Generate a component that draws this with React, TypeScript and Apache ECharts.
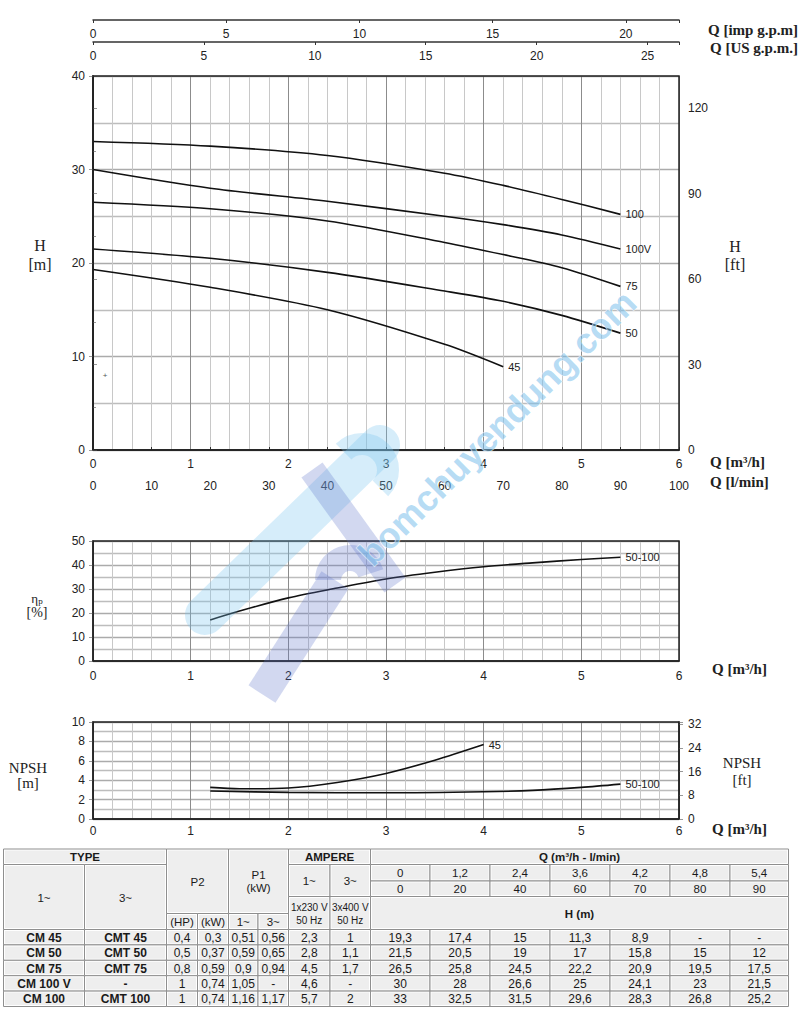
import React, { useEffect, useRef } from 'react';
import * as echarts from 'echarts';

// ---------- data ----------
const Q_M3H = [0, 1.2, 2.4, 3.6, 4.2, 4.8, 5.4];
const Q_LMIN = [0, 20, 40, 60, 70, 80, 90];
const CURVE_NAMES = ['45', '50', '75', '100V', '100'];
// table values H (m)
const H_45 = [19.3, 17.4, 15, 11.3, 8.9, null, null];
const H_50 = [21.5, 20.5, 19, 17, 15.8, 15, 12];
const H_75 = [26.5, 25.8, 24.5, 22.2, 20.9, 19.5, 17.5];
const H_100V = [30, 28, 26.6, 25, 24.1, 23, 21.5];
const H_100 = [33, 32.5, 31.5, 29.6, 28.3, 26.8, 25.2];
// curve 50 as drawn on the graph
const H_50_CURVE = [21.5, 20.5, 19, 17, 15.9, 14.4, 12.5];

const EFF_Q = [1.2, 1.5, 2, 2.5, 3, 3.5, 4, 4.5, 5, 5.4];
const EFF = [17.1, 20.8, 26.3, 30.4, 34.2, 37, 39.3, 40.9, 42.3, 43.2];

const NPSH45_Q = [1.2, 1.5, 2, 2.5, 3, 3.5, 4];
const NPSH45 = [3.26, 3.12, 3.2, 3.77, 4.7, 6.06, 7.67];
const NPSH100_Q = [1.2, 2, 3, 4, 4.5, 5, 5.4];
const NPSH100 = [2.88, 2.74, 2.7, 2.81, 2.95, 3.26, 3.6];

const TYPE_1 = ['CM 45', 'CM 50', 'CM 75', 'CM 100 V', 'CM 100'];
const TYPE_3 = ['CMT 45', 'CMT 50', 'CMT 75', '-', 'CMT 100'];
const P2_HP = ['0,4', '0,5', '0,8', '1', '1'];
const P2_KW = ['0,3', '0,37', '0,59', '0,74', '0,74'];
const P1_1 = ['0,51', '0,59', '0,9', '1,05', '1,16'];
const P1_3 = ['0,56', '0,65', '0,94', '-', '1,17'];
const AMP_1 = ['2,3', '2,8', '4,5', '4,6', '5,7'];
const AMP_3 = ['1', '1,1', '1,7', '-', '2'];

const M_TO_FT = 3.28084;
const M3H_TO_IMP = 1000 / 60 / 4.54609;
const M3H_TO_US = 1000 / 60 / 3.785411784;

// ---------- layout ----------
const SANS = 'Liberation Sans, Arial, sans-serif';
const SERIF = 'Liberation Serif, Times New Roman, serif';
const G0 = { left: 93, top: 76, width: 586, height: 374 };
const G1 = { left: 93, top: 541, width: 586, height: 120 };
const G2 = { left: 93, top: 722, width: 586, height: 97 };

const fmtNum = (v: number | null) => (v == null ? '-' : String(v).replace('.', ','));

function App() {
  const ref = useRef<HTMLDivElement>(null);

  useEffect(() => {
    const chart = echarts.init(ref.current!, null, { renderer: 'svg' });

    const lbl = (extra: any = {}) => ({ color: '#222', fontSize: 12, fontFamily: SANS, ...extra });
    const vGrid = {
      splitLine: { show: true, lineStyle: { color: '#8c8c8c', width: 1 } },
      minorTick: { show: false, splitNumber: 5 },
      minorSplitLine: { show: true, lineStyle: { color: '#c8c8c8', width: 1 } },
    };
    const hGrid = (n: number) => ({
      splitLine: { show: true, lineStyle: { color: '#ababab', width: 1.4 } },
      minorTick: { show: false, splitNumber: n },
      minorSplitLine: { show: true, lineStyle: { color: '#bdbdbd', width: 1.4 } },
    });
    const darkLine = { show: true, lineStyle: { color: '#222', width: 1.5 } };
    const grayTick = { show: true, length: 4, lineStyle: { color: '#999' } };

    const xAxis: any[] = [
      { gridIndex: 0, type: 'value', min: 0, max: 6, interval: 1, position: 'bottom',
        axisLine: darkLine, axisTick: { show: false }, axisLabel: lbl({ margin: 8 }), ...vGrid },
      { gridIndex: 0, type: 'value', min: 0, max: 100, interval: 10, position: 'bottom', offset: 22,
        axisLine: { show: true, lineStyle: { color: '#333', width: 1.5 } },
        axisTick: { show: true, inside: true, length: 3, lineStyle: { color: '#333' } },
        axisLabel: lbl({ margin: 8 }), splitLine: { show: false } },
      { gridIndex: 0, type: 'value', min: 0, max: 6 * M3H_TO_US, interval: 5, position: 'top', offset: 34,
        axisLine: { show: true, lineStyle: { color: '#333', width: 1.5 } },
        axisTick: { show: true, inside: true, length: 3, lineStyle: { color: '#333' } },
        axisLabel: lbl({ inside: true, margin: 8, formatter: (v: number) => (v % 5 === 0 ? String(v) : '') }),
        splitLine: { show: false } },
      { gridIndex: 0, type: 'value', min: 0, max: 6 * M3H_TO_IMP, interval: 5, position: 'top', offset: 56,
        axisLine: { show: true, lineStyle: { color: '#333', width: 1.5 } },
        axisTick: { show: true, inside: true, length: 3, lineStyle: { color: '#333' } },
        axisLabel: lbl({ inside: true, margin: 8, formatter: (v: number) => (v % 5 === 0 ? String(v) : '') }),
        splitLine: { show: false } },
      { gridIndex: 1, type: 'value', min: 0, max: 6, interval: 1,
        axisLine: darkLine, axisTick: { show: false }, axisLabel: lbl({ margin: 9 }), ...vGrid },
      { gridIndex: 2, type: 'value', min: 0, max: 6, interval: 1,
        axisLine: darkLine, axisTick: { show: false }, axisLabel: lbl({ margin: 6 }), ...vGrid },
    ];

    const yAxis: any[] = [
      { gridIndex: 0, type: 'value', min: 0, max: 40, interval: 10, position: 'left',
        axisLine: darkLine, axisTick: grayTick, axisLabel: lbl({ margin: 8 }), ...hGrid(2) },
      { gridIndex: 0, type: 'value', min: 0, max: 40 * M_TO_FT, interval: 30, position: 'right',
        axisLine: darkLine, axisTick: grayTick, minorTick: { show: true, splitNumber: 2, length: 3, lineStyle: { color: '#999' } },
        axisLabel: lbl({ margin: 9, formatter: (v: number) => (v % 30 === 0 ? String(v) : '') }),
        splitLine: { show: false } },
      { gridIndex: 1, type: 'value', min: 0, max: 50, interval: 10, position: 'left',
        axisLine: darkLine, axisTick: grayTick, axisLabel: lbl({ margin: 8 }), ...hGrid(2) },
      { gridIndex: 2, type: 'value', min: 0, max: 10, interval: 2, position: 'left',
        axisLine: darkLine, axisTick: grayTick, axisLabel: lbl({ margin: 8 }), ...hGrid(2) },
      { gridIndex: 2, type: 'value', min: 0, max: 10 * M_TO_FT, interval: 8, position: 'right',
        axisLine: darkLine, axisTick: grayTick,
        axisLabel: lbl({ margin: 9, formatter: (v: number) => (v % 8 === 0 ? String(v) : '') }),
        splitLine: { show: false } },
    ];

    const lineStyle = { color: '#111', width: 1.6 };
    const endLabel = (name: string) => ({
      show: true, formatter: name, color: '#222', fontSize: 11, fontFamily: SANS, distance: 5,
    });
    const curveBase = {
      type: 'line', smooth: 0.3, symbol: 'none', lineStyle,
      itemStyle: { color: '#111' }, z: 5,
    };

    const heads = [H_45, H_50, H_75, H_100V, H_100];
    const curves = [H_45, H_50_CURVE, H_75, H_100V, H_100];
    const series: any[] = curves.map((h, i) => ({
      ...curveBase, name: CURVE_NAMES[i], xAxisIndex: 0, yAxisIndex: 0,
      data: Q_M3H.map((q, j) => (h[j] == null ? null : [q, h[j]])).filter((p) => p),
      endLabel: endLabel(CURVE_NAMES[i]),
    }));
    series.push({
      ...curveBase, name: 'eff', xAxisIndex: 4, yAxisIndex: 2,
      data: EFF_Q.map((q, j) => [q, EFF[j]]), endLabel: endLabel('50-100'),
    });
    series.push({
      ...curveBase, name: 'n45', xAxisIndex: 5, yAxisIndex: 3,
      data: NPSH45_Q.map((q, j) => [q, NPSH45[j]]), endLabel: endLabel('45'),
    });
    series.push({
      ...curveBase, name: 'n100', xAxisIndex: 5, yAxisIndex: 3,
      data: NPSH100_Q.map((q, j) => [q, NPSH100[j]]), endLabel: endLabel('50-100'),
    });

    // ---------- graphic: titles, borders, watermark, table ----------
    const g: any[] = [];
    const txt = (text: string, x: number, y: number, o: any = {}) => ({
      type: 'text', x, y, z: 20,
      style: {
        text, fill: '#222', fontSize: 15, fontFamily: SERIF,
        align: o.align || 'center', verticalAlign: 'middle',
        textAlign: o.align || 'center', textVerticalAlign: 'middle',
        fontWeight: o.fontWeight || 'normal', ...o.style,
      },
    });
    g.push(txt('Q [imp g.p.m]', 708, 30, { align: 'left', fontWeight: 'bold' }));
    g.push(txt('Q [US g.p.m.]', 710, 48, { align: 'left', fontWeight: 'bold' }));
    g.push(txt('H', 40, 245, { style: { fontSize: 16 } }), txt('[m]', 40, 264, { style: { fontSize: 16 } }));
    g.push(txt('H', 735, 246, { style: { fontSize: 16 } }), txt('[ft]', 735, 264, { style: { fontSize: 16 } }));
    g.push(txt('Q [m³/h]', 710, 462, { align: 'left', fontWeight: 'bold' }));
    g.push(txt('Q [l/min]', 710, 482, { align: 'left', fontWeight: 'bold' }));
    g.push({
      type: 'text', x: 37, y: 598, z: 20,
      style: {
        text: '{e|η}{s|p}', align: 'center', verticalAlign: 'middle', textAlign: 'center', textVerticalAlign: 'middle',
        fill: '#222', fontFamily: SERIF,
        rich: {
          e: { fontSize: 13, fontFamily: SERIF, fill: '#222', color: '#222' },
          s: { fontSize: 9, fontFamily: SERIF, fill: '#222', color: '#222', padding: [5, 0, 0, 0] },
        },
      },
    });
    g.push(txt('[%]', 37, 612, { style: { fontSize: 14 } }));
    g.push(txt('Q [m³/h]', 712, 669, { align: 'left', fontWeight: 'bold' }));
    g.push(txt('NPSH', 28, 768, { style: { fontSize: 15 } }), txt('[m]', 28, 783));
    g.push(txt('NPSH', 742, 763, { style: { fontSize: 15 } }), txt('[ft]', 742, 780));
    g.push(txt('Q [m³/h]', 712, 829, { align: 'left', fontWeight: 'bold' }));
    g.push(txt('+', 105, 375, { style: { fontSize: 8, fontFamily: SANS, fill: '#555' } }));

    [G0, G1, G2].forEach((gr) => {
      g.push({ type: 'rect', z: 30, shape: { x: gr.left, y: gr.top, width: gr.width, height: gr.height },
        style: { fill: 'none', stroke: '#222', lineWidth: 1.5 } });
    });

    // watermark (approximation of the logo + site text)
    const cyan = 'rgba(120,195,240,0.30)';
    const blue = 'rgba(95,115,200,0.28)';
    const wm = (pts: number[][], color: string, w: number, cap = 'round') => ({
      type: 'polyline', z: 40, silent: true, shape: { points: pts },
      style: { stroke: color, lineWidth: w, lineCap: cap, lineJoin: 'round', fill: 'none' },
    });
    g.push(wm([[380, 445], [205, 615]], cyan, 40));
    g.push({
      type: 'arc', z: 40, silent: true,
      shape: { cx: 362, cy: 470, r: 26, startAngle: -Math.PI * 0.75, endAngle: Math.PI * 0.25, clockwise: true },
      style: { stroke: cyan, lineWidth: 22, fill: 'none', lineCap: 'butt' },
    });
    g.push(wm([[262, 694], [335, 580]], blue, 32, 'butt'));
    g.push({
      type: 'arc', z: 40, silent: true,
      shape: { cx: 350, cy: 580, r: 22, startAngle: Math.PI, endAngle: Math.PI * 1.9, clockwise: true },
      style: { stroke: blue, lineWidth: 26, fill: 'none', lineCap: 'butt' },
    });
    g.push(wm([[312, 470], [395, 585]], blue, 26, 'butt'));
    g.push({
      type: 'text', x: 497, y: 428, rotation: 0.78, z: 41, silent: true,
      style: {
        text: 'bomchuyendung.com', fontSize: 36, fontWeight: 'bold', fontFamily: SANS,
        fill: 'rgba(120,190,235,0.55)', stroke: 'rgba(255,255,255,0.7)', lineWidth: 1,
        align: 'center', verticalAlign: 'middle', textAlign: 'center', textVerticalAlign: 'middle',
      },
    });

    // table
    const cell = (x0: number, x1: number, y0: number, y1: number, text: string, o: any = {}) => {
      g.push({ type: 'rect', z: 10, shape: { x: x0, y: y0, width: x1 - x0, height: y1 - y0 },
        style: { fill: '#ffffff', stroke: '#8f8f8f', lineWidth: 1 } });
      g.push({ type: 'rect', z: 11, shape: { x: x0 + 1.5, y: y0 + 1.5, width: x1 - x0 - 3, height: y1 - y0 - 3 },
        style: { fill: '#eeeeee' } });
      if (text !== '') {
        g.push({ type: 'text', z: 12, x: (x0 + x1) / 2, y: (y0 + y1) / 2 + 0.5,
          style: { text, fill: '#1a1a1a', fontSize: o.fontSize || 11.5, fontFamily: SANS,
            fontWeight: o.bold ? 'bold' : 'normal', align: 'center', verticalAlign: 'middle',
            textAlign: 'center', textVerticalAlign: 'middle', lineHeight: o.lineHeight || 13 } });
      }
    };
    const CX = [3.5, 84.5, 166.5, 197.5, 228.5, 258, 288.5, 330, 370.5, 430, 490, 550, 610, 670, 730, 788.5];
    const R0 = 849, R1 = 864.5, R2 = 881, R3 = 896.5, R4 = 913.5, R5 = 929.5;
    const ROW_H = 15.4;
    cell(CX[0], CX[2], R0, R1, 'TYPE', { bold: true });
    cell(CX[0], CX[1], R1, R5, '1~');
    cell(CX[1], CX[2], R1, R5, '3~');
    cell(CX[2], CX[4], R0, R4, 'P2');
    cell(CX[2], CX[3], R4, R5, '(HP)');
    cell(CX[3], CX[4], R4, R5, '(kW)');
    cell(CX[4], CX[6], R0, R4, 'P1\n(kW)');
    cell(CX[4], CX[5], R4, R5, '1~');
    cell(CX[5], CX[6], R4, R5, '3~');
    cell(CX[6], CX[8], R0, R1, 'AMPERE', { bold: true });
    cell(CX[6], CX[7], R1, R3, '1~');
    cell(CX[7], CX[8], R1, R3, '3~');
    cell(CX[6], CX[7], R3, R5, '1x230 V\n50 Hz', { fontSize: 10 });
    cell(CX[7], CX[8], R3, R5, '3x400 V\n50 Hz', { fontSize: 10 });
    cell(CX[8], CX[15], R0, R1, 'Q (m³/h - l/min)', { bold: true });
    Q_M3H.forEach((q, j) => cell(CX[8 + j], CX[9 + j], R1, R2, fmtNum(q)));
    Q_LMIN.forEach((q, j) => cell(CX[8 + j], CX[9 + j], R2, R3, fmtNum(q)));
    cell(CX[8], CX[15], R3, R5, 'H (m)', { bold: true });
    TYPE_1.forEach((t, i) => {
      const y0 = R5 + i * ROW_H, y1 = y0 + ROW_H;
      const vals = [P2_HP[i], P2_KW[i], P1_1[i], P1_3[i]];
      cell(CX[0], CX[1], y0, y1, t, { bold: true, fontSize: 12 });
      cell(CX[1], CX[2], y0, y1, TYPE_3[i], { bold: true, fontSize: 12 });
      vals.forEach((v, k) => cell(CX[2 + k], CX[3 + k], y0, y1, v, { fontSize: 12 }));
      cell(CX[6], CX[7], y0, y1, AMP_1[i], { fontSize: 12 });
      cell(CX[7], CX[8], y0, y1, AMP_3[i], { fontSize: 12 });
      heads[i].forEach((h, j) => cell(CX[8 + j], CX[9 + j], y0, y1, fmtNum(h), { fontSize: 12 }));
    });

    chart.setOption({
      animation: false,
      backgroundColor: '#ffffff',
      grid: [
        { ...G0, containLabel: false },
        { ...G1, containLabel: false },
        { ...G2, containLabel: false },
      ],
      xAxis, yAxis, series, graphic: g,
    });
    return () => chart.dispose();
  }, []);

  return (
    <div
      ref={ref}
      style={{ position: 'absolute', left: 0, top: 0, width: 800, height: 1011, background: '#fff' }}
    />
  );
}

export default App;
